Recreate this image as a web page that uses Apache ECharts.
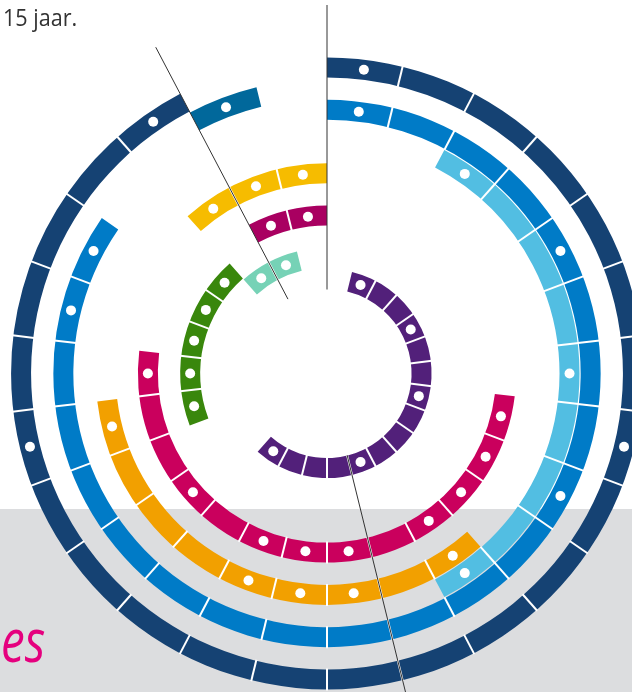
<!DOCTYPE html>
<html><head><meta charset="utf-8">
<script src="https://cdn.jsdelivr.net/npm/echarts@6/dist/echarts.min.js"></script>
<style>html,body{margin:0;padding:0;background:#fff}#c{width:632px;height:692px}</style>
</head><body><div id="c"></div>
<script>
// Rings from inside to outside
const lanes = ['paars','mintgroen','groen','violet','robijnrood','donkergeel','oranje','lichtblauw','hemelblauw','logoblauw','donkerblauw'];
const laneColors = ['#52207A','#76D2B6','#39870C','#A90061','#CA005D','#F6BC00','#F2A000','#52BEE2','#007BC7','#01689B','#154273'];
// span of each ring, in years counted clockwise from the top (full circle = 26 years)
const spanStart = [1, 23, 18, 24, 7, 23, 10, 2, 0, 24, 0];
const spanEnd   = [16, 25, 23, 26, 20, 26, 19, 11, 22, 25, 24];
// years that carry a white dot
const dotYears = [
  [1, 4, 7, 11, 15],
  [23, 24],
  [18, 19, 20, 21, 22],
  [24, 25],
  [7, 8, 9, 10, 12, 13, 14, 16, 19],
  [23, 24, 25],
  [10, 12, 13, 14, 18],
  [2, 6, 10],
  [0, 4, 8, 20, 21],
  [24],
  [0, 7, 18, 23]
];
const totalYears = 26;
const markerInterval = 12; // marker lines at 0, 12, 24

const chart = echarts.init(document.getElementById('c'), null, {renderer: 'canvas'});

const CENTER = [327, 373.5];
const offsetData = spanStart.map(v => ({value: v, itemStyle: {color: 'rgba(0,0,0,0)'}}));
const spanData = spanStart.map((s, i) => ({value: spanEnd[i] - s, itemStyle: {color: laneColors[i]}}));
const dividerData = [];
lanes.forEach((l, i) => { for (let k = spanStart[i] + 1; k < spanEnd[i]; k++) dividerData.push([i, k]); });
const dotData = [];
dotYears.forEach((arr, i) => arr.forEach(k => dotData.push([i, k + 0.5])));

const hiddenAxis = {axisLine: {show: false}, axisTick: {show: false}, axisLabel: {show: false}, splitLine: {show: false}, splitArea: {show: false}};

chart.setOption({
  animation: false,
  backgroundColor: '#ffffff',
  graphic: [
    {type: 'rect', z: -10, shape: {x: 0, y: 509, width: 632, height: 183}, style: {fill: '#DCDDDF'}},
    {type: 'text', x: 3, y: 7, scaleX: 0.9, style: {text: '15 jaar.', fill: '#333333', font: '24px "Open Sans"', verticalAlign: 'top'}},
    {type: 'text', x: 1, y: 614, scaleX: 0.78, style: {text: 'es', fill: '#E5007E', font: 'italic 61px "Open Sans"', verticalAlign: 'top'}}
  ],
  polar: [
    {center: CENTER, radius: [84, 316.5]},
    {center: CENTER, radius: [84, 368.5]}
  ],
  angleAxis: [
    Object.assign({polarIndex: 0, type: 'value', min: 0, max: totalYears, startAngle: 90, clockwise: true}, hiddenAxis),
    Object.assign({polarIndex: 1, type: 'value', min: 0, max: totalYears, interval: markerInterval, startAngle: 90, clockwise: true, z: 20}, hiddenAxis,
      {splitLine: {show: true, lineStyle: {color: '#333333', width: 1}}})
  ],
  radiusAxis: [
    Object.assign({polarIndex: 0, type: 'category', data: lanes}, hiddenAxis),
    Object.assign({polarIndex: 1, type: 'value', min: 0, max: 1}, hiddenAxis)
  ],
  series: [
    {type: 'bar', coordinateSystem: 'polar', polarIndex: 0, stack: 's', barWidth: 20, data: offsetData, silent: true},
    {type: 'bar', coordinateSystem: 'polar', polarIndex: 0, stack: 's', barWidth: 20, data: spanData, silent: true},
    {type: 'scatter', coordinateSystem: 'polar', polarIndex: 0, data: dividerData, symbol: 'rect', symbolSize: [2, 22],
      symbolRotate: (v) => -v[1] * 360 / totalYears, itemStyle: {color: '#ffffff', opacity: 1}, z: 5, silent: true},
    {type: 'scatter', coordinateSystem: 'polar', polarIndex: 0, data: dotData, symbol: 'circle', symbolSize: 10,
      itemStyle: {color: '#ffffff', opacity: 1}, z: 6, silent: true}
  ]
});
</script></body></html>
